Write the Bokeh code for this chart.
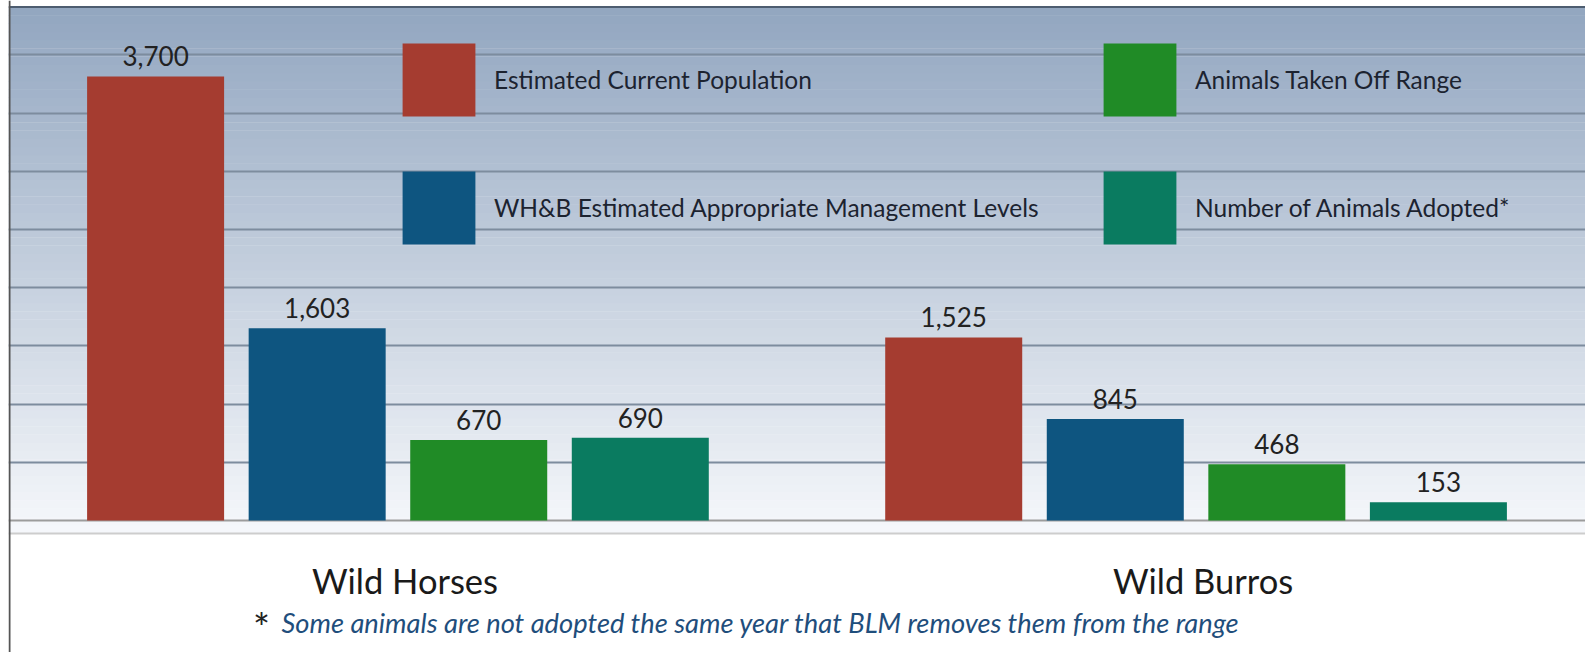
import numpy as np
from bokeh.plotting import figure
from bokeh.models import (FactorRange, Range1d, ColumnDataSource, Legend, LegendItem,
                          BoxAnnotation, Span, Grid, SingleIntervalTicker, Label)
from bokeh.core.properties import value
from bokeh.embed import file_html
from bokeh.resources import INLINE

# ---------------- data ----------------
groups = ["Wild Horses", "Wild Burros"]
series = ["Estimated Current Population",
          "WH&B Estimated Appropriate Management Levels",
          "Animals Taken Off Range",
          "Number of Animals Adopted*"]
current_population = [3700, 1525]
management_levels = [1603, 845]
taken_off_range = [670, 468]
animals_adopted = [690, 153]
footnote = "Some animals are not adopted the same year that BLM removes them from the range"

values_by_series = [current_population, management_levels, taken_off_range, animals_adopted]
colors = ["#a53c30", "#0e5580", "#208b26", "#0a7b60"]

# ---------------- styles ----------------
W, H = 1585, 652
FONT = "Lato"

x_range = FactorRange(factors=[(g, s) for g in groups for s in series],
                      range_padding=0.4105, range_padding_units="absolute",
                      group_padding=0.94, factor_padding=0.0)
y_range = Range1d(-1100, 4333.3)

p = figure(width=W, height=H, x_range=x_range, y_range=y_range,
           output_backend="svg", toolbar_location=None,
           x_axis_location=None, y_axis_location=None,
           min_border=0, min_border_left=8, background_fill_color="white",
           border_fill_color="white", outline_line_color=None)
for g in list(p.grid):
    g.visible = False

# gradient background (decorative strips)
top_rgb = np.array([146, 166, 192], dtype=float)
bot_rgb = np.array([246, 248, 251], dtype=float)
y_lo, y_hi = -108.0, 4275.0
n = 64
edges = np.linspace(y_lo, y_hi, n + 1)
for i in range(n):
    t = (i + 0.5) / n
    c = bot_rgb + (top_rgb - bot_rgb) * t
    hexc = "#%02x%02x%02x" % tuple(int(round(v)) for v in c)
    top_edge = min(edges[i + 1] + 3, y_hi)
    p.add_layout(BoxAnnotation(bottom=edges[i], top=top_edge,
                               fill_color=hexc, fill_alpha=1.0,
                               line_color=None, level="image"))

grid = Grid(dimension=1, ticker=SingleIntervalTicker(interval=485),
            bounds=(1, 4270), grid_line_color="#7d8c9e", grid_line_width=2)
p.add_layout(grid)
p.add_layout(Span(location=0, dimension="width", line_color="#9c9c9c",
                  line_width=2, level="underlay"))
p.add_layout(Span(location=-108, dimension="width", line_color="#cdcdcd",
                  line_width=2, level="underlay"))
p.add_layout(Span(location=4279, dimension="width", line_color="#4d5d70",
                  line_width=2, level="underlay"))

renderers = []
for s, vals, c in zip(series, values_by_series, colors):
    src = ColumnDataSource(dict(x=[(g, s) for g in groups], top=vals,
                                label=[f"{v:,}" for v in vals]))
    r = p.vbar(x="x", top="top", width=0.848, source=src,
               fill_color=c, line_color=None)
    p.text(x="x", y="top", text="label", source=src, text_align="center",
           text_baseline="bottom", y_offset=-10, text_font=value(FONT),
           text_font_size="26px", text_color="#222222")
    renderers.append(r)

# group labels
p.text(x=groups, y=[0, 0], text=groups, x_offset=7, y_offset=60, text_align="center",
       text_baseline="alphabetic", text_font=value(FONT),
       text_font_size="34.5px", text_color="#1a1a1a")

legend = Legend(items=[LegendItem(label=s, renderers=[r]) for s, r in zip(series, renderers)],
                ncols=2, orientation="vertical", location=(385, 399),
                glyph_width=91, glyph_height=91, label_standoff=10,
                label_width=563, spacing=37, padding=0, margin=0,
                border_line_color=None, background_fill_alpha=0,
                label_text_font=FONT, label_text_font_size="24.5px",
                label_text_color="#1c2330")
p.add_layout(legend)

# footnote
p.add_layout(Label(x=253, y=25, x_units="screen", y_units="screen", text="*",
                   text_align="center", text_baseline="alphabetic",
                   text_font=FONT, text_font_size="40px", text_color="#222222"))
p.add_layout(Label(x=273, y=30, x_units="screen", y_units="screen", text=footnote,
                   text_align="left", text_baseline="alphabetic",
                   text_font=FONT, text_font_style="italic",
                   text_font_size="27.3px", text_color="#1f4e7c"))

# chart's left border
p.add_layout(BoxAnnotation(left=0, right=2, left_units="screen", right_units="screen",
                           fill_color="#555555", fill_alpha=1.0, line_color=None,
                           level="overlay"))

open("out.html", "w").write(file_html(p, INLINE))
